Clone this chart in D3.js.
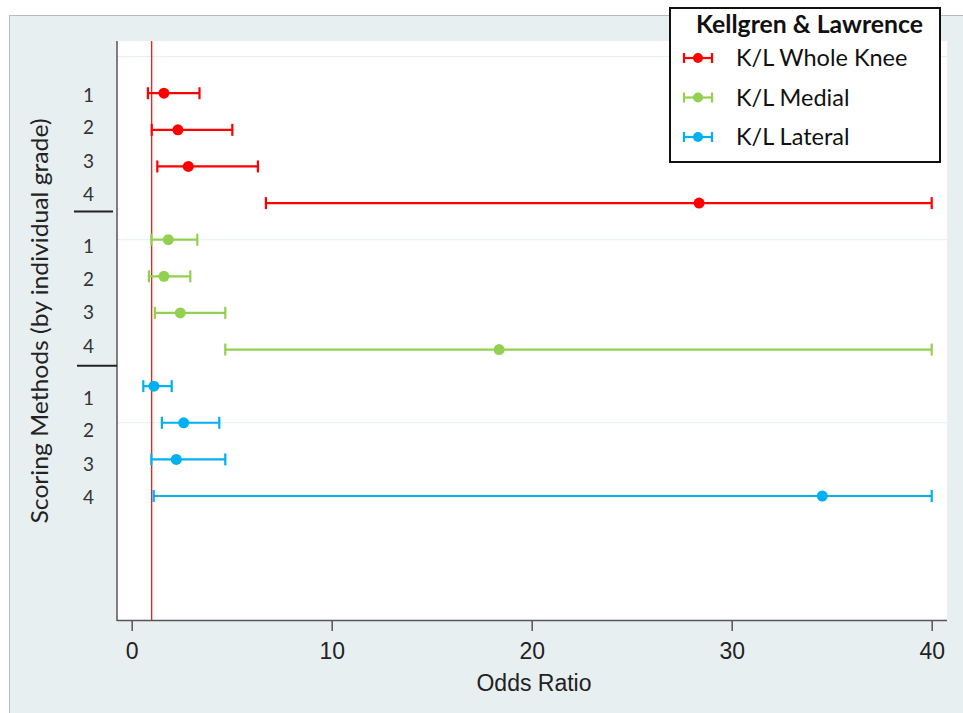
<!DOCTYPE html>
<html>
<head>
<meta charset="utf-8">
<script src="https://cdn.jsdelivr.net/npm/d3@7"></script>
<style>
  html, body { margin: 0; padding: 0; background: #ffffff; }
  svg { display: block; }
</style>
</head>
<body>
<svg id="chart" width="963" height="713"></svg>
<script>
// ---- data ----
const seriesNames = ["K/L Whole Knee", "K/L Medial", "K/L Lateral"];
const seriesColors = ["#ff0000", "#92d050", "#00b0f0"];
const grades = ["1", "2", "3", "4"];
// odds ratios and 95% CI per grade
const wholeKneeOR = [1.61, 2.31, 2.83, 28.37];
const wholeKneeLo = [0.81, 1.00, 1.28, 6.71];
const wholeKneeHi = [3.39, 5.03, 6.31, 40.0];
const medialOR = [1.83, 1.61, 2.43, 18.37];
const medialLo = [0.98, 0.86, 1.16, 4.68];
const medialHi = [3.28, 2.93, 4.68, 40.0];
const lateralOR = [1.11, 2.60, 2.23, 34.53];
const lateralLo = [0.58, 1.51, 0.98, 1.10];
const lateralHi = [2.00, 4.38, 4.68, 40.0];
// row positions (y units) of estimates and of the grade labels
const rowPositions = [1, 2, 3, 4, 5, 6, 7, 8, 9, 10, 11, 12];
const labelPositions = [1.05, 1.93, 2.85, 3.75, 5.18, 6.07, 6.98, 7.91, 9.33, 10.2, 11.13, 12.04];
const separatorPositions = [4.23, 8.44];
const gridPositions = [0, 5, 10];
const xTicks = [0, 10, 20, 30, 40];
const referenceOR = 1;

const series = [
  { name: seriesNames[0], color: seriesColors[0], or: wholeKneeOR, lo: wholeKneeLo, hi: wholeKneeHi },
  { name: seriesNames[1], color: seriesColors[1], or: medialOR, lo: medialLo, hi: medialHi },
  { name: seriesNames[2], color: seriesColors[2], or: lateralOR, lo: lateralLo, hi: lateralHi }
];
const rows = [];
series.forEach((s, si) => {
  grades.forEach((g, gi) => {
    rows.push({ color: s.color, or: s.or[gi], lo: s.lo[gi], hi: s.hi[gi], pos: rowPositions[si * 4 + gi] });
  });
});

// ---- layout ----
const svg = d3.select("#chart");
const W = 963, H = 713;
const plot = { left: 117, right: 947, top: 41, bottom: 620 };
const sansUI = "Lato, 'Open Sans', sans-serif";
const sansArial = "'Liberation Sans', Arial, sans-serif";

// outer background
svg.append("rect").attr("x", 9).attr("y", 15).attr("width", W - 9).attr("height", H - 15)
  .attr("fill", "#e8eff1");
svg.append("line").attr("x1", 9).attr("x2", W).attr("y1", 15.5).attr("y2", 15.5)
  .attr("stroke", "#b8bcbe").attr("stroke-width", 1);
svg.append("line").attr("x1", 9.5).attr("x2", 9.5).attr("y1", 15).attr("y2", H)
  .attr("stroke", "#b8bcbe").attr("stroke-width", 1);

// plot area
svg.append("rect").attr("x", plot.left).attr("y", plot.top)
  .attr("width", plot.right - plot.left).attr("height", plot.bottom - plot.top)
  .attr("fill", "#ffffff");

const x = d3.scaleLinear().domain([0, 40]).range([131.7, 931.7]);
const y = d3.scaleLinear().domain([0, 12]).range([56.6, 496.0]);

// grid lines
svg.append("g").selectAll("line").data(gridPositions).join("line")
  .attr("x1", plot.left).attr("x2", plot.right)
  .attr("y1", d => y(d)).attr("y2", d => y(d))
  .attr("stroke", "#e6eef0").attr("stroke-width", 1);

// reference line
svg.append("line").attr("x1", x(referenceOR)).attr("x2", x(referenceOR))
  .attr("y1", plot.top).attr("y2", plot.bottom)
  .attr("stroke", "#ff0000").attr("stroke-width", 1.2);

// x axis
const xAxis = d3.axisBottom(x).tickValues(xTicks).tickSize(11).tickSizeOuter(0);
const gx = svg.append("g").attr("transform", `translate(0,${plot.bottom})`).call(xAxis);
gx.select(".domain").remove();
gx.append("line").attr("x1", plot.left).attr("x2", plot.right).attr("y1", 0.5).attr("y2", 0.5)
  .attr("stroke", "#555").attr("stroke-width", 1.5);
gx.selectAll(".tick line").attr("stroke", "#555").attr("stroke-width", 1.5);
gx.selectAll(".tick text").attr("fill", "#222").attr("y", 39).attr("dy", null)
  .style("font-family", sansArial).style("font-size", "23px");

svg.append("text").attr("x", 534).attr("y", 691)
  .attr("text-anchor", "middle").attr("fill", "#222")
  .style("font-family", sansArial).style("font-size", "23px").text("Odds Ratio");

// y axis line
svg.append("line").attr("x1", plot.left).attr("x2", plot.left).attr("y1", plot.top).attr("y2", plot.bottom + 1)
  .attr("stroke", "#555").attr("stroke-width", 1.5);

// y labels (grades)
const yLabelText = labelPositions.map((p, i) => grades[i % 4]);
svg.append("g").selectAll("text").data(labelPositions).join("text")
  .attr("x", 88.5).attr("y", d => y(d)).attr("dy", "0.36em")
  .attr("text-anchor", "middle").attr("fill", "#333")
  .style("font-family", sansUI).style("font-size", "19px")
  .text((d, i) => yLabelText[i]);

// group separators
svg.append("g").selectAll("line").data(separatorPositions).join("line")
  .attr("x1", (d, i) => i === 0 ? 74 : 77).attr("x2", (d, i) => i === 0 ? 113 : plot.left)
  .attr("y1", d => y(d)).attr("y2", d => y(d))
  .attr("stroke", "#222").attr("stroke-width", 2);

// y axis title
svg.append("text").attr("transform", "translate(48,321) rotate(-90)")
  .attr("text-anchor", "middle").attr("fill", "#222")
  .attr("textLength", 405).attr("lengthAdjust", "spacingAndGlyphs")
  .style("font-family", sansUI).style("font-size", "24px")
  .text("Scoring Methods (by individual grade)");

// error bars
const capH = 6;
const gBars = svg.append("g");
rows.forEach(r => {
  const yy = y(r.pos);
  const g = gBars.append("g").attr("stroke", r.color).attr("stroke-width", 2.2);
  g.append("line").attr("x1", x(r.lo)).attr("x2", x(r.hi)).attr("y1", yy).attr("y2", yy);
  g.append("line").attr("x1", x(r.lo)).attr("x2", x(r.lo)).attr("y1", yy - capH).attr("y2", yy + capH);
  g.append("line").attr("x1", x(r.hi)).attr("x2", x(r.hi)).attr("y1", yy - capH).attr("y2", yy + capH);
  gBars.append("circle").attr("cx", x(r.or)).attr("cy", yy).attr("r", 5.5).attr("fill", r.color);
});

// legend
const lg = svg.append("g");
lg.append("rect").attr("x", 670).attr("y", 8).attr("width", 270).attr("height", 154)
  .attr("fill", "#ffffff").attr("stroke", "#111").attr("stroke-width", 2);
lg.append("text").attr("x", 809.5).attr("y", 33).attr("text-anchor", "middle")
  .attr("fill", "#111").style("font-family", sansUI)
  .attr("textLength", 227).attr("lengthAdjust", "spacingAndGlyphs")
  .style("font-size", "24px").style("font-weight", "bold").text("Kellgren & Lawrence");
series.forEach((s, i) => {
  const ly = 58 + i * 39.5;
  const g = lg.append("g").attr("stroke", s.color).attr("stroke-width", 2.2);
  g.append("line").attr("x1", 684).attr("x2", 712).attr("y1", ly).attr("y2", ly);
  g.append("line").attr("x1", 684).attr("x2", 684).attr("y1", ly - 5).attr("y2", ly + 5);
  g.append("line").attr("x1", 712).attr("x2", 712).attr("y1", ly - 5).attr("y2", ly + 5);
  lg.append("circle").attr("cx", 698).attr("cy", ly).attr("r", 5).attr("fill", s.color);
  lg.append("text").attr("x", 736).attr("y", ly).attr("dy", "0.36em").attr("fill", "#111")
    .style("font-family", sansUI).style("font-size", "23.5px")
    .text(s.name);
});
</script>
</body>
</html>
